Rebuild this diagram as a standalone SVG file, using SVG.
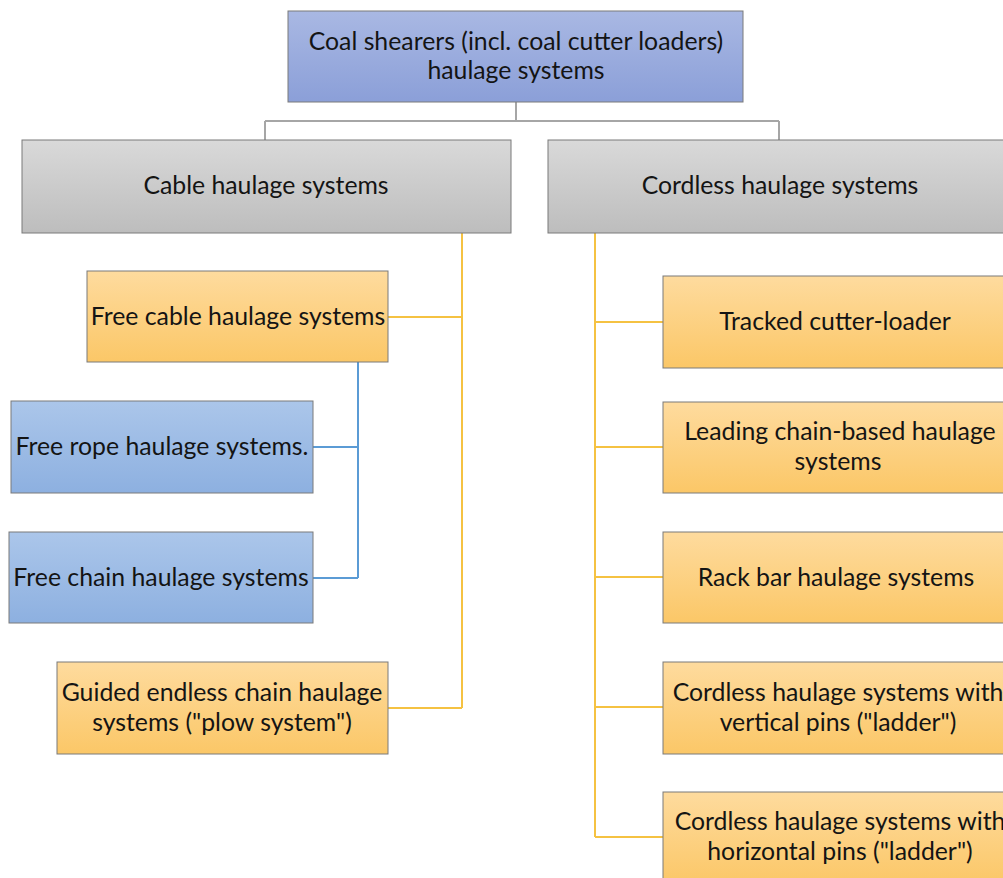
<svg xmlns="http://www.w3.org/2000/svg" width="1003" height="878" viewBox="0 0 1003 878">
<defs>
<linearGradient id="gTop" x1="0" y1="0" x2="0" y2="1"><stop offset="0" stop-color="#a9b8e3"/><stop offset="1" stop-color="#8b9fd8"/></linearGradient>
<linearGradient id="gGray" x1="0" y1="0" x2="0" y2="1"><stop offset="0" stop-color="#d9d9d9"/><stop offset="1" stop-color="#bdbdbd"/></linearGradient>
<linearGradient id="gOr" x1="0" y1="0" x2="0" y2="1"><stop offset="0" stop-color="#fedb9e"/><stop offset="1" stop-color="#fbc767"/></linearGradient>
<linearGradient id="gBl" x1="0" y1="0" x2="0" y2="1"><stop offset="0" stop-color="#abc6ea"/><stop offset="1" stop-color="#8db0e0"/></linearGradient>
</defs>
<style>
rect{stroke:#7a7a7a;stroke-width:1}
text{font-family:Lato,"Open Sans","Liberation Sans",sans-serif;font-size:24.8px;fill:#141414;text-anchor:middle}
.c{fill:none;stroke-width:2}
.g{stroke:#a6a6a6}
.y{stroke:#f5c242}
.b{stroke:#5b9bd5}
</style>
<rect width="1003" height="878" fill="#ffffff" style="stroke:none"/>
<g id="connectors">
<path class="c g" d="M516 102V121M265 121H779M265 121V140M779 121V140"/>
<path class="c y" d="M462 233V708M388 317H462M388 708H462"/>
<path class="c b" d="M358 362V578M313 447H358M313 578H358"/>
<path class="c y" d="M595 233V837M595 322H663M595 447H663M595 577H663M595 707H663M595 837H663"/>
</g>
<g id="root"><rect x="288" y="11" width="455" height="91" fill="url(#gTop)"/><text x="516" y="50">Coal shearers (incl. coal cutter loaders)</text><text x="516" y="79">haulage systems</text></g>
<g id="cable"><rect x="22" y="140" width="489" height="93" fill="url(#gGray)"/><text x="266" y="194">Cable haulage systems</text></g>
<g id="cordless"><rect x="548" y="140" width="465" height="93" fill="url(#gGray)"/><text x="780" y="194">Cordless haulage systems</text></g>
<g id="freecable"><rect x="87" y="271" width="301" height="91" fill="url(#gOr)"/><text x="238" y="325">Free cable haulage systems</text></g>
<g id="freerope"><rect x="11" y="401" width="302" height="92" fill="url(#gBl)"/><text x="162" y="455">Free rope haulage systems.</text></g>
<g id="freechain"><rect x="9" y="532" width="304" height="91" fill="url(#gBl)"/><text x="161" y="586">Free chain haulage systems</text></g>
<g id="guided"><rect x="57" y="662" width="331" height="92" fill="url(#gOr)"/><text x="222" y="701">Guided endless chain haulage</text><text x="222" y="731">systems ("plow system")</text></g>
<g id="tracked"><rect x="663" y="276" width="347" height="92" fill="url(#gOr)"/><text x="835" y="330">Tracked cutter-loader</text></g>
<g id="leading"><rect x="663" y="402" width="347" height="91" fill="url(#gOr)"/><text x="840" y="440">Leading chain-based haulage</text><text x="838" y="470">systems</text></g>
<g id="rack"><rect x="663" y="532" width="347" height="91" fill="url(#gOr)"/><text x="836" y="586">Rack bar haulage systems</text></g>
<g id="vertical"><rect x="663" y="662" width="347" height="92" fill="url(#gOr)"/><text x="838" y="701">Cordless haulage systems with</text><text x="838" y="731">vertical pins ("ladder")</text></g>
<g id="horizontal"><rect x="663" y="792" width="347" height="92" fill="url(#gOr)"/><text x="840" y="830">Cordless haulage systems with</text><text x="840" y="860">horizontal pins ("ladder")</text></g>
</svg>
